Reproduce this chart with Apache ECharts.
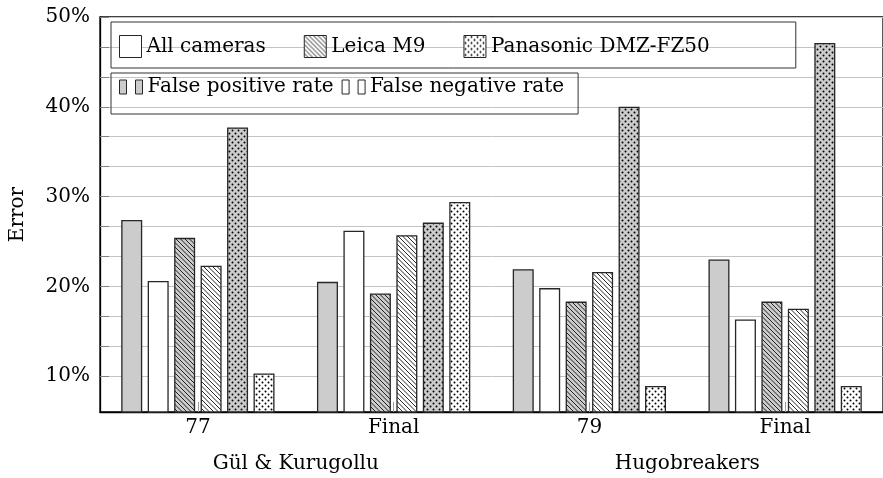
<!DOCTYPE html>
<html>
<head>
<meta charset="utf-8">
<script src="https://cdn.jsdelivr.net/npm/echarts@6/dist/echarts.min.js"></script>
<style>
  html, body { margin: 0; padding: 0; background: #fff; }
  #chart { width: 883px; height: 478px; }
</style>
</head>
<body>
<div id="chart"></div>
<script>
// Detection error per submission, split by camera and by error type
const submissions = ['77', 'Final', '79', 'Final'];
const teams = ['Gül & Kurugollu', 'Hugobreakers'];
const yTickLabels = [10, 20, 30, 40, 50];

const allFP   = [27.4, 20.5, 21.9, 23.0];
const allFN   = [20.6, 26.2, 19.8, 16.3];
const leicaFP = [25.4, 19.2, 18.3, 18.3];
const leicaFN = [22.3, 25.7, 21.6, 17.5];
const panaFP  = [37.7, 27.1, 40.0, 47.1];
const panaFN  = [10.3, 29.4, 8.9, 8.9];

const FONT = 'DejaVu Serif';
const GRAY = '#cccccc';
const EDGE = '#262626';

// Fill patterns: north-west hatch lines and staggered dots
function hatch(bg) {
  const s = 9, step = 4.5;
  const c = document.createElement('canvas');
  c.width = s; c.height = s;
  const g = c.getContext('2d');
  g.fillStyle = bg; g.fillRect(0, 0, s, s);
  g.strokeStyle = '#000'; g.lineWidth = 0.85;
  g.beginPath();
  for (let k = -2; k <= 2; k++) {
    g.moveTo(-2 + k * step, -2);
    g.lineTo(s + 2 + k * step, s + 2);
  }
  g.stroke();
  return { image: c, repeat: 'repeat' };
}
function dots(bg) {
  const s = 6;
  const c = document.createElement('canvas');
  c.width = s; c.height = s;
  const g = c.getContext('2d');
  g.fillStyle = bg; g.fillRect(0, 0, s, s);
  g.fillStyle = '#000';
  [[1.5, 1.5], [4.5, 4.5]].forEach(([x, y]) => {
    g.beginPath(); g.arc(x, y, 1.0, 0, Math.PI * 2); g.fill();
  });
  return { image: c, repeat: 'repeat' };
}

// minor grid: three steps per labelled decade
const yTicks = [];
for (let i = 0; i < yTickLabels.length; i++) {
  yTicks.push(yTickLabels[i]);
  if (i < yTickLabels.length - 1) {
    const a = yTickLabels[i], b = yTickLabels[i + 1];
    yTicks.push(a + (b - a) / 3, a + 2 * (b - a) / 3);
  }
}

function bar(name, values, fill) {
  return {
    type: 'bar',
    name: name,
    data: values,
    barWidth: 21,
    barGap: '26%',
    itemStyle: { color: fill, borderColor: EDGE, borderWidth: 1.3 },
    emphasis: { disabled: true }
  };
}

const chart = echarts.init(document.getElementById('chart'), null, { renderer: 'canvas' });
chart.setOption({
  animation: false,
  textStyle: { fontFamily: FONT, color: '#000' },
  grid: {
    left: 97, top: 17, width: 788, height: 395,
    show: true, borderColor: '#000', borderWidth: 1.3, backgroundColor: 'transparent'
  },
  legend: [
    {
      left: 111, top: 22,
      orient: 'horizontal',
      padding: [13, 86, 10, 8],
      itemGap: 38,
      itemWidth: 22, itemHeight: 22,
      borderColor: '#333', borderWidth: 1,
      selectedMode: false,
      textStyle: { fontFamily: FONT, fontSize: 20, color: '#000' },
      data: [
        { name: 'All cameras', icon: 'rect', itemStyle: { color: '#fff', borderColor: EDGE, borderWidth: 1 } },
        { name: 'Leica M9', icon: 'rect', itemStyle: { color: hatch('#fff'), borderColor: EDGE, borderWidth: 1 } },
        { name: 'Panasonic DMZ-FZ50', icon: 'rect', itemStyle: { color: dots('#fff'), borderColor: EDGE, borderWidth: 1 } }
      ]
    },
    {
      left: 111, top: 73,
      orient: 'horizontal',
      padding: [4, 14, 17, 8],
      itemGap: 8,
      itemWidth: 23, itemHeight: 14,
      borderColor: '#333', borderWidth: 1,
      selectedMode: false,
      textStyle: { fontFamily: FONT, fontSize: 20, color: '#000' },
      data: [
        { name: 'False positive rate', icon: 'path://M0,0H7V14H0Z M16,0H23V14H16Z',
          itemStyle: { color: GRAY, borderColor: EDGE, borderWidth: 1 } },
        { name: 'False negative rate', icon: 'path://M0,0H7V14H0Z M16,0H23V14H16Z',
          itemStyle: { color: '#fff', borderColor: EDGE, borderWidth: 1 } }
      ]
    }
  ],
  xAxis: [
    {
      type: 'category',
      data: submissions,
      position: 'bottom',
      axisLine: { lineStyle: { color: '#000', width: 1.3 } },
      axisTick: { show: true, inside: true, alignWithLabel: true, length: 10, lineStyle: { color: '#9a9a9a' } },
      axisLabel: { fontFamily: FONT, fontSize: 20, color: '#000', margin: 6 },
      splitLine: { show: false }
    },
    {
      type: 'category',
      data: teams,
      position: 'bottom',
      axisLine: { show: false },
      axisTick: { show: false },
      axisLabel: { fontFamily: FONT, fontSize: 20, color: '#000', margin: 42 },
      splitLine: { show: false }
    }
  ],
  yAxis: {
    type: 'value',
    min: 6, max: 50,
    name: 'Error',
    nameLocation: 'middle',
    nameGap: 72,
    nameTextStyle: { fontFamily: FONT, fontSize: 20, color: '#000' },
    axisLine: { show: true, lineStyle: { color: '#000', width: 1.3 } },
    axisTick: { show: true, inside: true, length: 9, customValues: yTicks, lineStyle: { color: '#808080' } },
    axisLabel: {
      customValues: yTickLabels,
      fontFamily: FONT, fontSize: 20, color: '#000', margin: 10,
      formatter: v => v + '%'
    },
    splitLine: { show: true, lineStyle: { color: '#c4c4c4', width: 1 } }
  },
  series: [
    bar('All cameras', allFP, GRAY),
    bar('All cameras', allFN, '#fff'),
    bar('Leica M9', leicaFP, hatch(GRAY)),
    bar('Leica M9', leicaFN, hatch('#fff')),
    bar('Panasonic DMZ-FZ50', panaFP, dots(GRAY)),
    bar('Panasonic DMZ-FZ50', panaFN, dots('#fff')),
    { type: 'line', name: 'False positive rate', data: [] },
    { type: 'line', name: 'False negative rate', data: [] }
  ]
});
</script>
</body>
</html>
